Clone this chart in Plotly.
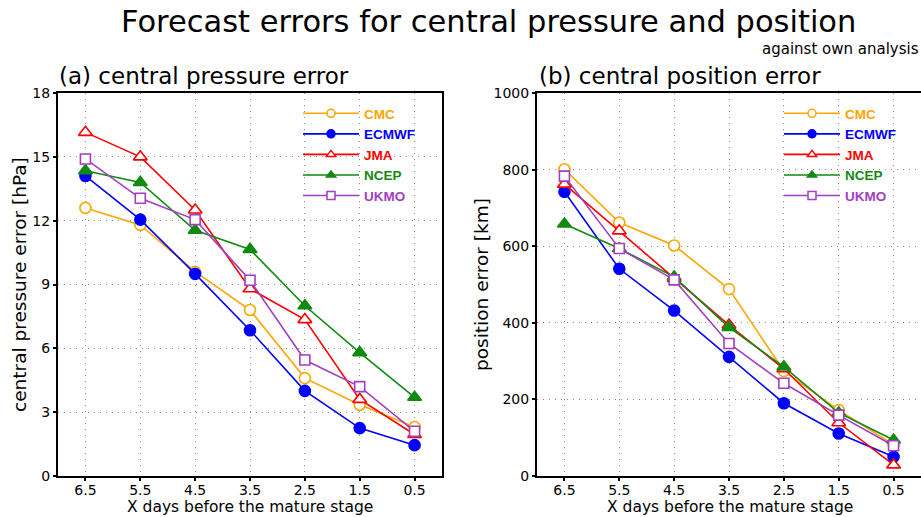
import plotly.graph_objects as go

days = [6.5, 5.5, 4.5, 3.5, 2.5, 1.5, 0.5]
tick_labels = ["6.5", "5.5", "4.5", "3.5", "2.5", "1.5", "0.5"]
centers = ["CMC", "ECMWF", "JMA", "NCEP", "UKMO"]

# (a) central pressure error [hPa]
pres_cmc = [12.6, 11.8, 9.6, 7.8, 4.6, 3.35, 2.3]
pres_ecmwf = [14.1, 12.05, 9.5, 6.85, 4.0, 2.25, 1.45]
pres_jma = [16.15, 15.0, 12.5, 8.8, 7.35, 3.6, 1.95]
pres_ncep = [14.35, 13.8, 11.55, 10.65, 8.0, 5.8, 3.7]
pres_ukmo = [14.9, 13.05, 12.05, 9.2, 5.45, 4.2, 2.1]

# (b) central position error [km]
pos_cmc = [801, 662, 602, 488, 274, 172, 82]
pos_ecmwf = [742, 541, 432, 311, 190, 111, 50]
pos_jma = [762, 640, 516, 394, 280, 139, 29]
pos_ncep = [658, 594, 520, 388, 285, 165, 94]
pos_ukmo = [783, 594, 512, 346, 242, 159, 79]

colors = {"CMC": "#FFA500", "ECMWF": "#0000FF", "JMA": "#FF0000",
          "NCEP": "#118A11", "UKMO": "#A23FC0"}
symbols = {"CMC": "circle", "ECMWF": "circle", "JMA": "triangle-up",
           "NCEP": "triangle-up", "UKMO": "square"}
filled = {"CMC": False, "ECMWF": True, "JMA": False, "NCEP": True, "UKMO": False}
msize = {"CMC": 11, "ECMWF": 11, "JMA": 12, "NCEP": 12, "UKMO": 10}

pres = dict(zip(centers, [pres_cmc, pres_ecmwf, pres_jma, pres_ncep, pres_ukmo]))
pos = dict(zip(centers, [pos_cmc, pos_ecmwf, pos_jma, pos_ncep, pos_ukmo]))

fig = go.Figure()


def add(series, xa, ya, legend):
    for c in centers:
        col = colors[c]
        fig.add_trace(go.Scatter(
            x=days, y=series[c], xaxis=xa, yaxis=ya,
            mode="lines+markers", showlegend=False,
            line=dict(color=col, width=1.6),
            marker=dict(symbol=symbols[c], size=msize[c],
                        color=col if filled[c] else "white",
                        line=dict(color=col, width=1.6)),
            cliponaxis=False,
        ))
    # legend entries (smaller symbols, coloured labels)
    for c in centers:
        col = colors[c]
        fig.add_trace(go.Scatter(
            x=[None], y=[None], xaxis=xa, yaxis=ya, legend=legend,
            mode="lines+markers",
            name='<b><span style="color:%s">%s</span></b>' % (col, c),
            line=dict(color=col, width=1.6),
            marker=dict(symbol=symbols[c], size=8,
                        color=col if filled[c] else "white",
                        line=dict(color=col, width=1.5)),
        ))


add(pres, "x", "y", "legend")
add(pos, "x2", "y2", "legend2")

FONT = "DejaVu Sans"
ydom = [41 / 517, 424 / 517]

axis_common = dict(
    showline=True, mirror=True, linecolor="black", linewidth=2,
    showgrid=True, gridcolor="#8c8c8c", griddash="1px,5px", gridwidth=1,
    ticks="outside", ticklen=3, tickcolor="black", tickwidth=1.5,
    zeroline=False, automargin=False,
    tickfont=dict(family=FONT, size=14, color="black"),
)
xaxis_extra = dict(ticklabelstandoff=-3)

leg_common = dict(xanchor="left", yanchor="top", bgcolor="rgba(0,0,0,0)",
                  itemwidth=56, tracegroupgap=0,
                  font=dict(family="Liberation Sans", size=13.5))

fig.update_layout(
    width=921, height=517,
    margin=dict(l=0, r=0, t=0, b=0),
    paper_bgcolor="white", plot_bgcolor="white",
    showlegend=True,
    xaxis=dict(domain=[58 / 921, 442 / 921], range=[7, 0], tickvals=days,
               ticktext=tick_labels, anchor="y", **axis_common, **xaxis_extra),
    yaxis=dict(domain=ydom, range=[0, 18], tickvals=[0, 3, 6, 9, 12, 15, 18],
               anchor="x", **axis_common),
    xaxis2=dict(domain=[537 / 921, 1.0], range=[7, 0], tickvals=days,
                ticktext=tick_labels, anchor="y2", **axis_common, **xaxis_extra),
    yaxis2=dict(domain=ydom, range=[0, 1000],
                tickvals=[0, 200, 400, 600, 800, 1000], anchor="x2", **axis_common),
    legend=dict(x=298 / 921, y=1 - 98 / 517, **leg_common),
    legend2=dict(x=779 / 921, y=1 - 98 / 517, **leg_common),
)

ann = [
    dict(text="Forecast errors for central pressure and position", x=488 / 921,
         y=1 - 21 / 517, xanchor="center", yanchor="middle",
         font=dict(family=FONT, size=30.5, color="black")),
    dict(text="against own analysis", x=1.0, y=1 - 49 / 517, xanchor="right",
         yanchor="middle", font=dict(family=FONT, size=15, color="black")),
    dict(text="(a) central pressure error", x=57 / 921, y=1 - 76 / 517,
         xanchor="left", yanchor="middle",
         font=dict(family=FONT, size=23, color="black")),
    dict(text="(b) central position error", x=537 / 921, y=1 - 76 / 517,
         xanchor="left", yanchor="middle",
         font=dict(family=FONT, size=23, color="black")),
    dict(text="X days before the mature stage", x=250 / 921, y=0,
         xanchor="center", yanchor="bottom", borderpad=0,
         font=dict(family=FONT, size=15.5, color="black")),
    dict(text="X days before the mature stage", x=730 / 921, y=0,
         xanchor="center", yanchor="bottom", borderpad=0,
         font=dict(family=FONT, size=15.5, color="black")),
    dict(text="central pressure error [hPa]", x=19 / 921, y=1 - 285 / 517,
         xanchor="center", yanchor="middle", textangle=-90,
         font=dict(family=FONT, size=18.5, color="black")),
    dict(text="position error [km]", x=481 / 921, y=1 - 285 / 517,
         xanchor="center", yanchor="middle", textangle=-90,
         font=dict(family=FONT, size=18.5, color="black")),
]
for a in ann:
    a.update(xref="paper", yref="paper", showarrow=False)
fig.update_layout(annotations=ann)

fig.write_html(
    "out.html",
    config={"displayModeBar": False},
    post_script="document.body.style.margin='0';document.body.style.overflow='hidden';",
)
